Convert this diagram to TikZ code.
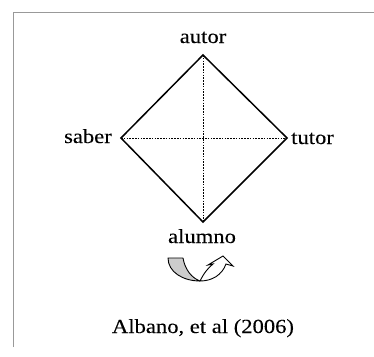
\documentclass[tikz,border=0pt]{standalone}
\usepackage{fontspec}
\setmainfont[FakeStretch=1.13,FakeBold=0.1]{Liberation Serif}
\begin{document}
\begin{tikzpicture}[x=1pt,y=-1pt,
  lbl/.style={inner sep=0pt,font=\fontsize{20}{24}\selectfont},
  frame/.style={draw=black!40,line width=0.8pt},
  edge/.style={line width=1.5pt,line join=miter},
  diag/.style={line width=0.6pt,dash pattern=on 1.6pt off 1.2pt}]
\useasboundingbox (0,0) rectangle (374,356);
\draw[frame] (13,347) -- (13,12) -- (374,12);
\coordinate (top) at (203,55);
\coordinate (left) at (121,138);
\coordinate (right) at (287,138);
\coordinate (bottom) at (203,222);
\draw[diag] (top) -- (bottom);
\draw[diag] (left) -- (right);
\draw[edge] (top) -- (right) -- (bottom) -- (left) -- cycle;
\node[lbl,anchor=base] (autor) at (203,43) {autor};
\node[lbl,anchor=base east] (saber) at (112,143) {saber};
\node[lbl,anchor=base west] (tutor) at (291,144) {tutor};
\node[lbl,anchor=base] (alumno) at (202,243) {alumno};
\node[lbl,anchor=base] (src) at (203,333) {Albano, et al (2006)};
% U-turn arrow
\draw[line width=0.9pt,fill=black!20,line join=round]
  (168,258) -- (183,258) .. controls (185,270) and (192,278) .. (200,281)
  .. controls (183,281) and (168,272) .. (168,258) -- cycle;
\draw[line width=0.9pt,fill=white,line join=miter]
  (200,281) .. controls (204,273) and (208,268) .. (213,264)
  -- (208,265) -- (223,256) -- (233,266) -- (226,264)
  .. controls (222,275) and (212,281) .. (200,281) -- cycle;
\end{tikzpicture}
\end{document}
